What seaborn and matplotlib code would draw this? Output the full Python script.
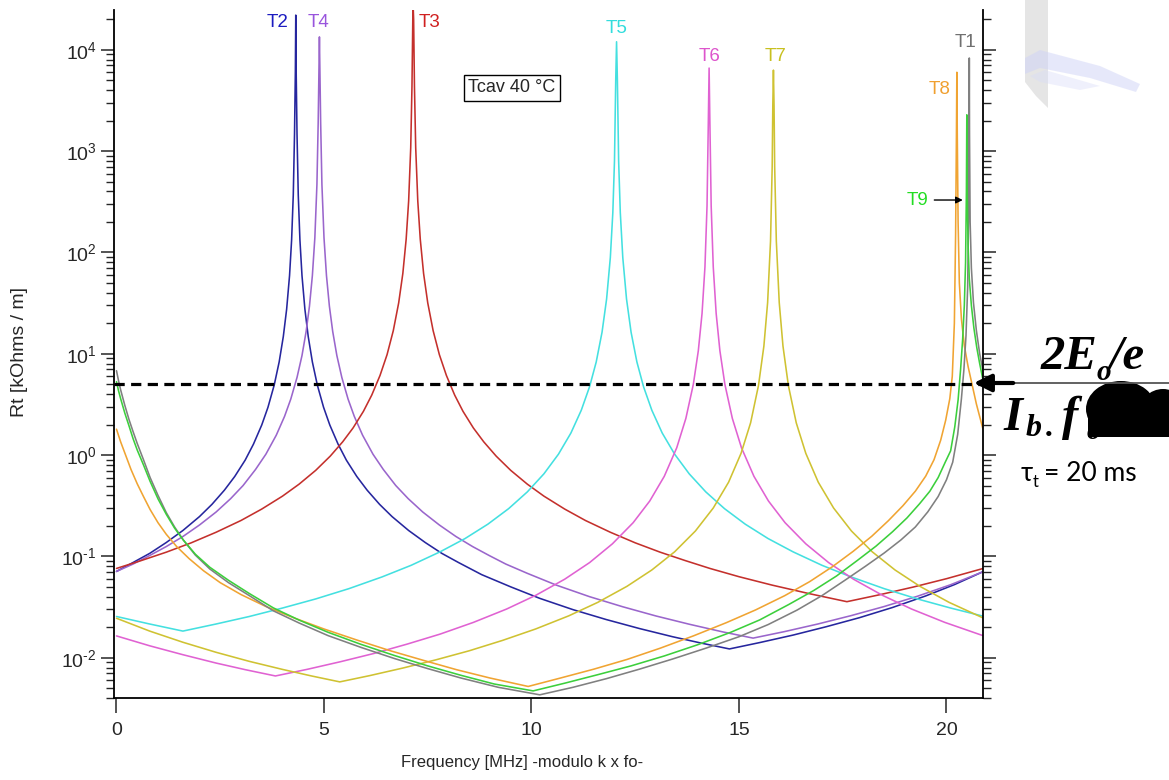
import matplotlib
matplotlib.use("Agg")
import math
import matplotlib.pyplot as plt
import matplotlib.ticker as mticker
from matplotlib.patches import Ellipse, Circle, Rectangle, Polygon
import pandas as pd
import seaborn as sns

# frequency [MHz] and Rt [kOhm/m] for every mode
t2_freq = [0, 0.4, 0.8, 1.2, 1.6, 2.0, 2.3, 2.6, 2.85, 3.1, 3.3, 3.5, 3.65, 3.8, 3.92, 4.02, 4.1, 4.17, 4.22, 4.26,
           4.29, 4.31, 4.32, 4.33, 4.35, 4.38, 4.42, 4.47, 4.54, 4.62, 4.72, 4.84, 4.99, 5.14, 5.34, 5.54, 5.79, 6.04,
           6.34, 6.64, 7.04, 7.44, 7.84, 8.24, 8.8, 9.5, 10.2, 11.0, 11.8, 12.6, 13.4, 14.1, 14.77, 15.5, 16.3, 17.1,
           17.9, 18.7, 19.5, 20.2, 20.88]
t2_rt = [0.071, 0.087, 0.107, 0.137, 0.18, 0.247, 0.326, 0.45, 0.615, 0.89, 1.28, 1.98, 2.96, 4.9, 8.3, 14.8, 27.5, 59,
         133, 370, 1480, 6000, 22000, 6000, 1480, 370, 133, 59, 27.5, 14.8, 8.3, 4.9, 2.96, 1.98, 1.28, 0.89, 0.615,
         0.45, 0.326, 0.247, 0.18, 0.137, 0.107, 0.087, 0.066, 0.05, 0.0385, 0.0298, 0.0238, 0.0194, 0.0161, 0.0139,
         0.0122, 0.0141, 0.0167, 0.0202, 0.0248, 0.0313, 0.0407, 0.0528, 0.0706]

t4_freq = [0, 0.4, 0.8, 1.2, 1.6, 2.0, 2.4, 2.75, 3.05, 3.35, 3.6, 3.85, 4.05, 4.2, 4.35, 4.47, 4.57, 4.65, 4.72, 4.78,
           4.83, 4.86, 4.88, 4.89, 4.90, 4.92, 4.95, 5.0, 5.06, 5.13, 5.21, 5.31, 5.43, 5.58, 5.73, 5.93, 6.18, 6.43,
           6.73, 7.03, 7.38, 7.78, 8.18, 8.58, 8.98, 9.38, 9.9, 10.6, 11.4, 12.2, 13.0, 13.8, 14.6, 15.34, 16.1, 16.9,
           17.7, 18.5, 19.3, 20.1, 20.88]
t4_rt = [0.071, 0.084, 0.102, 0.125, 0.157, 0.204, 0.274, 0.371, 0.50, 0.72, 1.02, 1.57, 2.41, 3.57, 5.83, 9.6, 16.6,
         29.5, 59, 140, 470, 1890, 7000, 13400, 7000, 1890, 470, 140, 59, 29.5, 16.6, 9.6, 5.83, 3.57, 2.41, 1.57, 1.02,
         0.72, 0.50, 0.371, 0.274, 0.204, 0.157, 0.125, 0.102, 0.084, 0.068, 0.052, 0.040, 0.0318, 0.0258, 0.0214,
         0.018, 0.0156, 0.0181, 0.0215, 0.026, 0.032, 0.0404, 0.0525, 0.0705]

t3_freq = [0, 0.6, 1.2, 1.8, 2.4, 3.0, 3.5, 4.0, 4.4, 4.8, 5.15, 5.45, 5.7, 5.95, 6.15, 6.35, 6.52, 6.67, 6.8, 6.9, 6.98,
           7.04, 7.09, 7.12, 7.14, 7.15, 7.16, 7.18, 7.21, 7.26, 7.32, 7.4, 7.5, 7.63, 7.78, 7.95, 8.15, 8.35, 8.6, 8.85,
           9.15, 9.5, 9.9, 10.3, 10.8, 11.3, 11.9, 12.5, 13.1, 13.7, 14.3, 15.0, 15.8, 16.7, 17.6, 18.4, 19.2, 20.0,
           20.88]
t3_rt = [0.076, 0.091, 0.11, 0.136, 0.173, 0.226, 0.293, 0.393, 0.516, 0.706, 0.975, 1.35, 1.85, 2.7, 3.9, 6.1, 9.8,
         16.9, 31.8, 62, 135, 322, 1080, 4330, 20000, 26000, 20000, 4330, 1080, 322, 135, 62, 31.8, 16.9, 9.8, 6.1, 3.9,
         2.7, 1.85, 1.35, 0.975, 0.706, 0.516, 0.393, 0.293, 0.226, 0.173, 0.136, 0.11, 0.091, 0.076, 0.063, 0.052,
         0.0428, 0.0357, 0.0419, 0.0498, 0.0602, 0.0759]

t5_freq = [0, 0.8, 1.6, 2.4, 3.2, 4.0, 4.8, 5.6, 6.4, 7.1, 7.8, 8.4, 8.95, 9.45, 9.9, 10.3, 10.65, 10.95, 11.2, 11.4,
           11.56, 11.7, 11.81, 11.9, 11.96, 12.0, 12.03, 12.05, 12.07, 12.1, 12.14, 12.2, 12.29, 12.4, 12.54, 12.7, 12.9,
           13.15, 13.45, 13.8, 14.2, 14.65, 15.15, 15.7, 16.3, 17.0, 17.7, 18.5, 19.3, 20.1, 20.88]
t5_rt = [0.0255, 0.0215, 0.0183, 0.0215, 0.0255, 0.0309, 0.038, 0.048, 0.0627, 0.0816, 0.111, 0.15, 0.208, 0.296,
         0.433, 0.653, 1.02, 1.65, 2.77, 4.73, 8.3, 16.3, 34.7, 89, 247, 800, 5000, 12000, 5000, 800, 247, 89, 34.7,
         16.3, 8.3, 4.73, 2.77, 1.65, 1.02, 0.653, 0.433, 0.296, 0.208, 0.15, 0.111, 0.0816, 0.0627, 0.048, 0.038,
         0.0309, 0.0257]

t6_freq = [0, 0.8, 1.6, 2.4, 3.1, 3.83, 4.6, 5.4, 6.2, 7.0, 7.8, 8.6, 9.4, 10.1, 10.8, 11.4, 11.95, 12.45, 12.85, 13.2,
           13.5, 13.72, 13.9, 14.02, 14.11, 14.18, 14.23, 14.26, 14.28, 14.3, 14.33, 14.38, 14.45, 14.54, 14.66, 14.84,
           15.06, 15.36, 15.71, 16.11, 16.61, 17.16, 17.76, 18.46, 19.16, 19.96, 20.88]
t6_rt = [0.0164, 0.0131, 0.0107, 0.00885, 0.00762, 0.0066, 0.00768, 0.00913, 0.011, 0.0136, 0.0171, 0.0223, 0.0302,
         0.0412, 0.0595, 0.0868, 0.133, 0.215, 0.352, 0.617, 1.18, 2.3, 4.99, 10.7, 25, 72, 288, 1800, 6600, 1800, 288,
         72, 25, 10.7, 4.99, 2.3, 1.18, 0.617, 0.352, 0.215, 0.133, 0.0868, 0.0595, 0.0412, 0.0302, 0.0223, 0.0165]

t7_freq = [0, 0.8, 1.6, 2.4, 3.2, 4.0, 4.7, 5.38, 6.1, 6.9, 7.7, 8.5, 9.3, 10.1, 10.9, 11.6, 12.3, 12.9, 13.45, 13.95,
           14.38, 14.75, 15.05, 15.28, 15.47, 15.6, 15.69, 15.76, 15.8, 15.815, 15.83, 15.845, 15.86, 15.9, 15.97, 16.06,
           16.19, 16.38, 16.61, 16.91, 17.28, 17.71, 18.21, 18.76, 19.36, 20.06, 20.88]
t7_rt = [0.0245, 0.0183, 0.0142, 0.0113, 0.0092, 0.00766, 0.0066, 0.00577, 0.00665, 0.0079, 0.00953, 0.0117, 0.0148,
         0.0192, 0.0259, 0.0352, 0.0506, 0.0734, 0.111, 0.178, 0.30, 0.54, 1.04, 2.08, 4.86, 11.9, 32, 129, 700, 2800,
         6300, 2800, 700, 129, 32, 11.9, 4.86, 2.08, 1.04, 0.54, 0.30, 0.178, 0.111, 0.0734, 0.0506, 0.0352, 0.0247]

t8_freq = [0, 0.1, 0.2, 0.35, 0.5, 0.65, 0.81, 1.0, 1.2, 1.45, 1.75, 2.1, 2.5, 3.0, 3.6, 4.3, 5.0, 5.8, 6.6, 7.4, 8.2,
           9.0, 9.92, 10.7, 11.5, 12.3, 13.1, 13.9, 14.7, 15.4, 16.1, 16.7, 17.25, 17.75, 18.2, 18.6, 18.95, 19.25, 19.5,
           19.7, 19.86, 19.98, 20.08, 20.14, 20.19, 20.22, 20.24, 20.25, 20.26, 20.28, 20.31, 20.36, 20.43, 20.52, 20.62,
           20.72, 20.8, 20.88]
t8_rt = [1.8, 1.35, 1.05, 0.72, 0.52, 0.39, 0.29, 0.215, 0.165, 0.125, 0.095, 0.072, 0.055, 0.042, 0.032, 0.0245,
         0.0192, 0.0149, 0.0117, 0.0094, 0.0076, 0.0063, 0.0052, 0.0063, 0.0077, 0.0096, 0.0124, 0.0164, 0.0222, 0.0296,
         0.0409, 0.0562, 0.079, 0.112, 0.158, 0.225, 0.316, 0.44, 0.62, 0.9, 1.4, 2.2, 3.6, 6, 20, 150, 1500, 6000, 1500,
         200, 50, 22, 12, 7.5, 4.9, 3.2, 2.4, 1.8]

t9_freq = [0, 0.05, 0.1, 0.2, 0.3, 0.4, 0.5, 0.65, 0.81, 1.0, 1.2, 1.4, 1.61, 1.9, 2.25, 2.7, 3.2, 3.78, 4.4, 5.1, 5.9,
           6.7, 7.5, 8.3, 9.1, 10.04, 10.8, 11.6, 12.4, 13.2, 14.0, 14.8, 15.5, 16.2, 16.8, 17.35, 17.85, 18.3, 18.7,
           19.05, 19.35, 19.6, 19.8, 19.97, 20.1, 20.2, 20.28, 20.34, 20.39, 20.43, 20.46, 20.48, 20.49, 20.5, 20.52,
           20.55, 20.6, 20.66, 20.73, 20.8, 20.88]
t9_rt = [5.3, 4.3, 3.6, 2.6, 1.95, 1.45, 1.12, 0.8, 0.55, 0.37, 0.26, 0.19, 0.145, 0.105, 0.078, 0.058, 0.043, 0.031,
         0.0235, 0.0178, 0.0135, 0.0105, 0.0083, 0.0067, 0.0055, 0.0047, 0.0056, 0.0068, 0.0083, 0.0104, 0.0134, 0.0178,
         0.0236, 0.0335, 0.046, 0.064, 0.091, 0.126, 0.175, 0.24, 0.33, 0.44, 0.6, 0.85, 1.1, 1.9, 3.5, 7, 14, 30, 80,
         400, 2280, 400, 120, 55, 30, 18, 11.5, 8, 5.5]

t1_freq = [0, 0.05, 0.1, 0.2, 0.3, 0.4, 0.5, 0.65, 0.81, 1.0, 1.2, 1.4, 1.61, 1.9, 2.25, 2.7, 3.2, 3.78, 4.4, 5.1, 5.9,
           6.7, 7.5, 8.3, 9.2, 10.2, 11.0, 11.8, 12.6, 13.4, 14.2, 15.0, 15.7, 16.4, 17.0, 17.55, 18.05, 18.5, 18.9,
           19.25, 19.55, 19.8, 20.0, 20.15, 20.27, 20.36, 20.42, 20.47, 20.51, 20.53, 20.545, 20.55, 20.555, 20.57, 20.6,
           20.65, 20.72, 20.8, 20.88]
t1_rt = [6.8, 5.4, 4.4, 3.1, 2.25, 1.7, 1.3, 0.9, 0.6, 0.4, 0.27, 0.195, 0.145, 0.103, 0.075, 0.055, 0.041, 0.029, 0.022,
         0.0165, 0.0126, 0.0098, 0.0078, 0.0063, 0.0051, 0.0043, 0.0051, 0.0062, 0.0077, 0.0097, 0.0124, 0.0161, 0.0212,
         0.0295, 0.041, 0.058, 0.08, 0.108, 0.145, 0.195, 0.275, 0.39, 0.57, 0.85, 1.6, 3.6, 7, 15, 45, 200, 1500, 8300,
         1500, 200, 70, 32, 17, 10, 6.8]

threshold = 5.0  # 2E0/e / (Ib f0), tau_t = 20 ms

modes = ["T2", "T4", "T3", "T5", "T6", "T7", "T8", "T1", "T9"]
colors = {"T2": "#26269e", "T4": "#9a66cc", "T3": "#c4302c", "T5": "#44e0e0", "T6": "#e062d2",
          "T7": "#cfc232", "T8": "#f0a432", "T9": "#3ccf3c", "T1": "#808080"}
label_colors = {"T2": "#1c1cc0", "T4": "#9955dd", "T3": "#d02020", "T5": "#33dddd", "T6": "#dd55cc",
                "T7": "#c8c020", "T8": "#f0a030", "T9": "#22dd22", "T1": "#707070"}
# label positions (freq, Rt) next to each peak
label_x = {"T2": 3.89, "T4": 4.86, "T3": 7.55, "T5": 12.06, "T6": 14.28, "T7": 15.87, "T8": 19.84, "T1": 20.47}
label_y = {"T2": 18800, "T4": 18800, "T3": 18800, "T5": 16400, "T6": 8490, "T7": 8490, "T8": 4010, "T1": 11700}

curves = {"T2": (t2_freq, t2_rt), "T4": (t4_freq, t4_rt), "T3": (t3_freq, t3_rt), "T5": (t5_freq, t5_rt),
          "T6": (t6_freq, t6_rt), "T7": (t7_freq, t7_rt), "T8": (t8_freq, t8_rt), "T1": (t1_freq, t1_rt),
          "T9": (t9_freq, t9_rt)}
df = pd.concat([pd.DataFrame({"freq": f, "rt": r, "mode": m}) for m, (f, r) in curves.items()], ignore_index=True)

sns.set_style("ticks")
plt.rcParams["font.family"] = ["Liberation Sans", "DejaVu Sans"]
plt.rcParams["mathtext.default"] = "regular"
plt.rcParams["axes.unicode_minus"] = False

fig = plt.figure(figsize=(11.69, 7.8), dpi=100)
ax = fig.add_axes([114 / 1169, 82 / 780, 869 / 1169, 688 / 780])

sns.lineplot(data=df, x="freq", y="rt", hue="mode", hue_order=modes, palette=colors, estimator=None,
             sort=False, legend=False, linewidth=1.15, ax=ax)
ax.set_yscale("log")
ax.set_xlim(-0.06, 20.88)
ax.set_ylim(4e-3, 2.47e4)

ax.axhline(threshold, color="black", lw=2.3, ls=(0, (3.2, 2.0)), zorder=5)


def decade_label(v, pos):
    e = int(round(math.log10(v)))
    # Igor writes a short hyphen in the exponent
    exp = ("\u2010" + str(-e)) if e < 0 else str(e)
    return "$10^{%s}$" % exp


# axes look (Igor style)
for side in ["left", "bottom", "right"]:
    ax.spines[side].set_color("black")
    ax.spines[side].set_linewidth(1.3)
ax.spines["top"].set_visible(False)
ax.set_xticks([0, 5, 10, 15, 20])
ax.xaxis.set_minor_locator(mticker.NullLocator())
ax.yaxis.set_major_locator(mticker.LogLocator(base=10, numticks=20))
ax.yaxis.set_major_formatter(mticker.FuncFormatter(decade_label))
ax.yaxis.set_minor_locator(mticker.LogLocator(base=10, subs=[2, 3, 4, 5, 6, 7, 8, 9], numticks=20))
ax.yaxis.set_minor_formatter(mticker.NullFormatter())
ax.tick_params(axis="y", which="major", length=9.5, width=1.1, direction="out", left=True, right=True,
               labelsize=14, pad=3)
ax.tick_params(axis="y", which="minor", length=5.5, width=1.0, direction="out", left=True, right=True)
ax.tick_params(axis="x", which="major", length=11, width=1.1, direction="out", labelsize=14, pad=6)
ax.set_xlabel("")
ax.set_ylabel("")
fig.text(522 / 1169, 1 - 763 / 780, "Frequency [MHz] -modulo k x fo-", ha="center", va="center", fontsize=12)
fig.text(20 / 1169, 1 - 352 / 780, "Rt [kOhms / m]", ha="center", va="center", rotation=90, fontsize=14)

for m in label_x:
    ax.text(label_x[m], label_y[m], m, color=label_colors[m], ha="center", va="center", fontsize=13.5)
ax.text(19.31, 329, "T9", color=label_colors["T9"], ha="center", va="center", fontsize=13.5)
ax.annotate("", xy=(20.46, 329), xytext=(19.64, 329),
            arrowprops=dict(arrowstyle="-|>", color="black", lw=1.0, mutation_scale=10))
ax.text(9.53, 4200, "Tcav 40 °C", ha="center", va="center", fontsize=13,
        bbox=dict(boxstyle="square,pad=0.25", fc="white", ec="black", lw=1.0))

# overlay in pixel coordinates for the pasted annotation on the right
ov = fig.add_axes([0, 0, 1, 1])
ov.set_xlim(0, 1169)
ov.set_ylim(780, 0)
ov.axis("off")
ov.patch.set_visible(False)

# faint logo in the corner
ov.add_patch(Polygon([(1025, 0), (1048, 0), (1048, 108), (1036, 96), (1025, 82)], closed=True,
                     fc="#dadada", ec="none", alpha=0.7))
ov.add_patch(Polygon([(1025, 58), (1040, 50), (1100, 66), (1140, 84), (1136, 92), (1090, 78), (1040, 68),
                      (1025, 74)], closed=True, fc="#cfd3f7", ec="none", alpha=0.5))
ov.add_patch(Polygon([(1030, 76), (1045, 70), (1100, 86), (1080, 90), (1040, 82)], closed=True,
                     fc="#d8dbf8", ec="none", alpha=0.4))

ov.plot([1012, 1169], [383, 383], color="#555555", lw=1.3)
ov.annotate("", xy=(971, 383), xytext=(1016, 383),
            arrowprops=dict(arrowstyle="-|>", color="black", lw=3, mutation_scale=26))

serif = dict(family="Liberation Serif", style="italic", weight="bold", color="black", va="baseline")
ov.text(1041, 369, "2E", fontsize=35, **serif)
ov.text(1097, 380, "o", fontsize=21, **serif)
ov.text(1110, 369, "/e", fontsize=35, **serif)
ov.text(1003, 430, "I", fontsize=35, **serif)
ov.text(1026, 436, "b", fontsize=23, **serif)
ov.text(1046, 436, ".", fontsize=23, **serif)
ov.text(1062, 430, "f", fontsize=35, **serif)
ov.text(1087, 439, "o", fontsize=20, **serif)
ov.add_patch(Ellipse((1121, 409), 70, 56, fc="black", ec="none"))
ov.add_patch(Circle((1163, 413), 24, fc="black", ec="none"))
ov.add_patch(Rectangle((1088, 412), 81, 25, fc="black", ec="none"))

calib = dict(family=["Lato", "DejaVu Sans"], color="black", va="baseline")
ov.text(1021, 481, "τ", fontsize=19, **calib)
ov.text(1033, 487, "t", fontsize=12, **calib)
ov.text(1044, 481, "= 20 ms", fontsize=19, **calib)

fig.savefig("out.png", dpi=100)
